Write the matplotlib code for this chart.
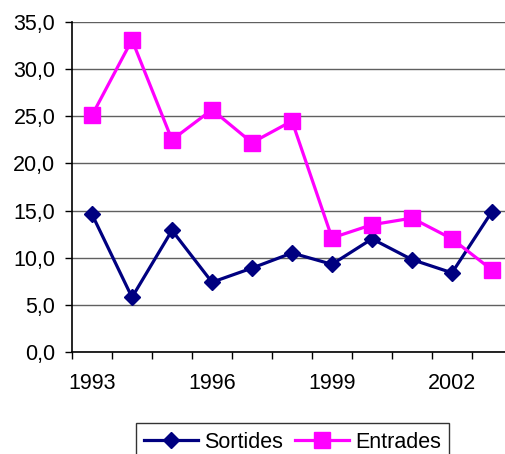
import matplotlib
matplotlib.use("Agg")
import matplotlib.pyplot as plt
from matplotlib.ticker import FixedLocator, FuncFormatter

years = [1993, 1994, 1995, 1996, 1997, 1998, 1999, 2000, 2001, 2002, 2003]
sortides = [14.6, 5.8, 12.9, 7.4, 8.9, 10.5, 9.3, 12.0, 9.8, 8.4, 14.9]
entrades = [25.1, 33.1, 22.5, 25.7, 22.2, 24.5, 12.1, 13.5, 14.2, 12.0, 8.7]
label_years = [1993, 1996, 1999, 2002]

plt.rcParams['font.family'] = ['Liberation Sans', 'DejaVu Sans']

fig = plt.figure(figsize=(5.06, 4.54), dpi=100)
ax = fig.add_axes([72/506, 1-352/454, (512-72)/506, (352-22)/454])

x = list(range(len(years)))
ax.plot(x, sortides, color='#000080', lw=2.3, marker='D', ms=8.5, label='Sortides')
ax.plot(x, entrades, color='#FF00FF', lw=2.3, marker='s', ms=11, label='Entrades')

ax.set_xlim(-0.5, len(years) - 0.5)
ax.set_ylim(0, 35)
ax.set_yticks([0, 5, 10, 15, 20, 25, 30, 35])
ax.yaxis.set_major_formatter(FuncFormatter(lambda v, p: f"{v:.1f}".replace('.', ',')))
ax.yaxis.grid(True, color='#606060', lw=1)
ax.set_axisbelow(True)

ax.set_xticks([years.index(y) for y in label_years])
ax.set_xticklabels([str(y) for y in label_years])
ax.xaxis.set_minor_locator(FixedLocator([i - 0.5 for i in range(len(years) + 1)]))
ax.tick_params(axis='x', which='major', length=0, pad=15, labelsize=15.5)
ax.tick_params(axis='x', which='minor', length=5, width=1, direction='out')
ax.tick_params(axis='y', length=5, width=1, direction='out', pad=7, labelsize=15.5)

for s in ['top', 'right']:
    ax.spines[s].set_visible(False)
ax.spines['left'].set_linewidth(1.2)
ax.spines['bottom'].set_linewidth(1.2)

leg = fig.legend(loc='upper center', bbox_to_anchor=(292.5/506, 1-423/454), ncol=2,
                 fontsize=15.5, frameon=True, fancybox=False, edgecolor='black',
                 handlelength=2.5, columnspacing=0.55, handletextpad=0.28,
                 borderpad=0.4, borderaxespad=0)
leg.get_frame().set_linewidth(1)

fig.savefig('out.png', dpi=100)
